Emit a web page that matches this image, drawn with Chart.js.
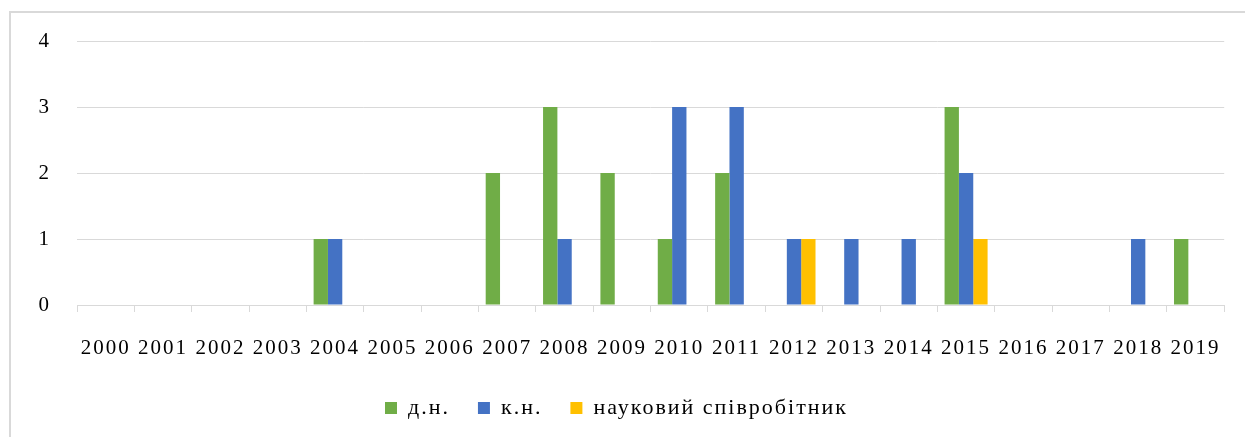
<!DOCTYPE html>
<html>
<head>
<meta charset="utf-8">
<script src="https://cdn.jsdelivr.net/npm/chart.js@4/dist/chart.umd.min.js"></script>
<style>
  html, body { margin: 0; padding: 0; background: #fff; }
  #wrap { position: relative; width: 1245px; height: 437px; overflow: hidden; }
  #frame { position: absolute; left: 9px; top: 11px; width: 1300px; height: 500px;
           border-left: 2px solid #d9d9d9; border-top: 2px solid #d9d9d9; }
  canvas { position: absolute; left: 0; top: 0; }
</style>
</head>
<body>
<div id="wrap">
  <div id="frame"></div>
  <canvas id="chart" width="1245" height="437"></canvas>
</div>
<script>
const years = ['2000','2001','2002','2003','2004','2005','2006','2007','2008','2009',
               '2010','2011','2012','2013','2014','2015','2016','2017','2018','2019'];
const doctors   = [0,0,0,0,1,0,0,2,3,2,1,2,0,0,0,3,0,0,0,1]; // д.н.
const candidates = [0,0,0,0,1,0,0,0,1,0,3,3,1,1,1,2,0,0,1,0]; // к.н.
const researchers = [0,0,0,0,0,0,0,0,0,0,0,0,1,0,0,1,0,0,0,0]; // науковий співробітник
const yTicks = [0, 1, 2, 3, 4];

const serif = "'Liberation Serif', 'Times New Roman', serif";
const gridColor = '#d9d9d9';

// the original picture is a bit stretched horizontally, widen the text a little
const wideText = {
  id: 'wideText',
  beforeUpdate(chart) { chart.ctx.letterSpacing = '2px'; },
  beforeDraw(chart) { chart.ctx.letterSpacing = '2px'; }
};

const ctx = document.getElementById('chart').getContext('2d');
new Chart(ctx, {
  type: 'bar',
  plugins: [wideText],
  data: {
    labels: years,
    datasets: [
      { label: 'д.н.', data: doctors, backgroundColor: '#70ad47' },
      { label: 'к.н.', data: candidates, backgroundColor: '#4472c4' },
      { label: 'науковий співробітник', data: researchers, backgroundColor: '#ffc000' }
    ]
  },
  options: {
    responsive: false,
    animation: false,
    devicePixelRatio: 1,
    categoryPercentage: 0.75,
    barPercentage: 1,
    layout: { padding: { top: 41, left: 7, right: 19, bottom: 8 } },
    plugins: {
      tooltip: { enabled: false },
      legend: {
        position: 'bottom',
        labels: {
          color: '#000',
          font: { family: serif, size: 22 },
          boxWidth: 12,
          boxHeight: 12,
          padding: 28
        }
      }
    },
    scales: {
      x: {
        grid: { offset: true, drawOnChartArea: false, drawTicks: true, tickLength: 7, color: gridColor },
        border: { color: gridColor, width: 1 },
        ticks: { color: '#000', font: { family: serif, size: 21 }, padding: 24, maxRotation: 0, autoSkip: false },
        afterFit: (s) => { s.height = 64; }
      },
      y: {
        min: 0,
        max: 4,
        afterBuildTicks: (s) => { s.ticks = yTicks.map(v => ({ value: v })); },
        grid: { color: gridColor, drawTicks: false },
        border: { display: false },
        ticks: { color: '#000', font: { family: serif, size: 21 }, padding: 26 },
        afterFit: (s) => { s.width = 70; }
      }
    }
  }
});
</script>
</body>
</html>
